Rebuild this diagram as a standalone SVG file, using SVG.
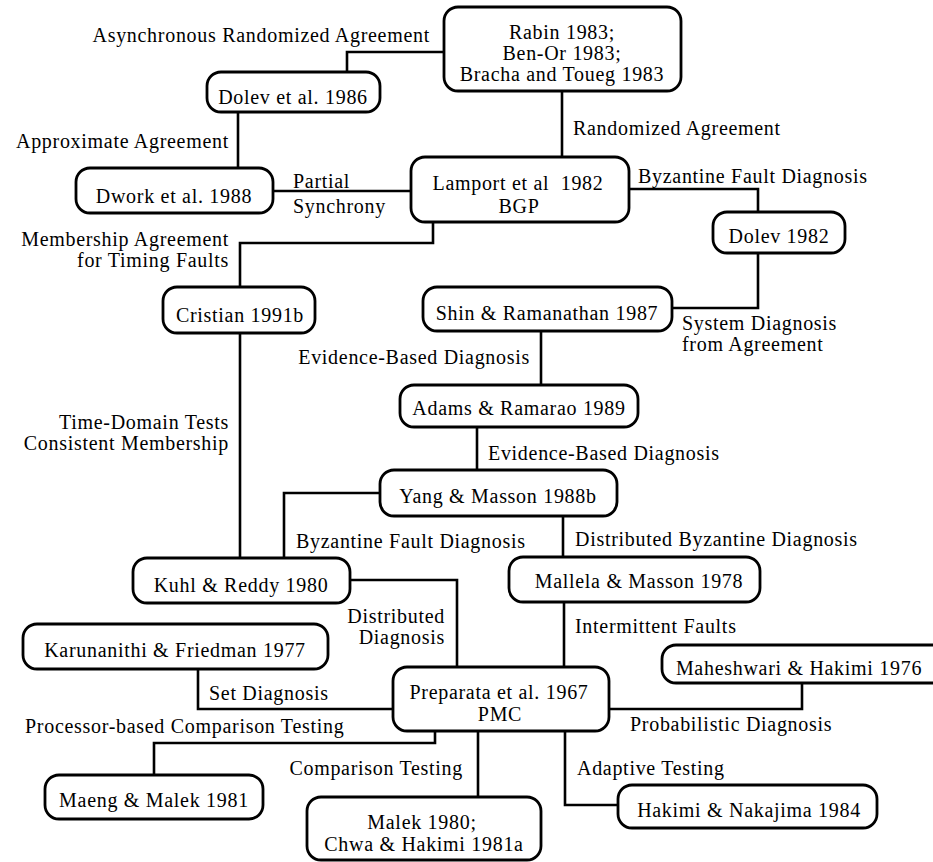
<svg xmlns="http://www.w3.org/2000/svg" width="933" height="862" viewBox="0 0 933 862">
<style>
.n rect{fill:#fff;stroke:#000;stroke-width:2.8}
text{font-family:"Liberation Serif","Times New Roman",serif;font-size:20px;fill:#000;letter-spacing:0.7px}
.n text{text-anchor:middle}
.e{text-anchor:end}
#edges path{fill:none;stroke:#000;stroke-width:2.6}
</style>
<rect x="0" y="0" width="933" height="862" fill="#fff"/>
<g id="edges">
<path d="M444,52 H347 V72"/>
<path d="M562,91 V157"/>
<path d="M238,112 V168"/>
<path d="M273,191 H411"/>
<path d="M629,189 H758 V212"/>
<path d="M433,222 V243 H240 V287"/>
<path d="M758,253 V308 H672"/>
<path d="M541,331 V385"/>
<path d="M477,427 V470"/>
<path d="M240,333 V558"/>
<path d="M380,493 H284 V558"/>
<path d="M563,516 V557"/>
<path d="M350,580 H457 V667"/>
<path d="M564,602 V667"/>
<path d="M198,669 V709 H393"/>
<path d="M435,731 V743 H154 V775"/>
<path d="M478,731 V797"/>
<path d="M565,731 V805 H618"/>
<path d="M609,709 H802 V683"/>
</g>
<g id="edge-labels">
<text class="e" x="430" y="42">Asynchronous Randomized Agreement</text>
<text x="573" y="135">Randomized Agreement</text>
<text class="e" x="229" y="148">Approximate Agreement</text>
<text x="293" y="188">Partial</text>
<text x="293" y="213">Synchrony</text>
<text x="638" y="183">Byzantine Fault Diagnosis</text>
<text class="e" x="229" y="246">Membership Agreement</text>
<text class="e" x="229" y="267">for Timing Faults</text>
<text x="682" y="330">System Diagnosis</text>
<text x="682" y="351">from Agreement</text>
<text class="e" x="530" y="364">Evidence-Based Diagnosis</text>
<text class="e" x="229" y="429">Time-Domain Tests</text>
<text class="e" x="229" y="450">Consistent Membership</text>
<text x="488" y="460">Evidence-Based Diagnosis</text>
<text x="296" y="548">Byzantine Fault Diagnosis</text>
<text x="575" y="546">Distributed Byzantine Diagnosis</text>
<text class="e" x="445" y="623">Distributed</text>
<text class="e" x="445" y="644">Diagnosis</text>
<text x="575" y="633">Intermittent Faults</text>
<text x="209" y="700">Set Diagnosis</text>
<text x="630" y="731">Probabilistic Diagnosis</text>
<text x="25" y="733">Processor-based Comparison Testing</text>
<text class="e" x="463" y="775">Comparison Testing</text>
<text x="577" y="775">Adaptive Testing</text>
</g>
<g id="rabin" class="n"><rect x="444" y="7" width="237" height="84" rx="14"/><text x="562" y="39">Rabin 1983;</text><text x="562" y="60">Ben-Or 1983;</text><text x="562" y="81">Bracha and Toueg 1983</text></g>
<g id="dolev86" class="n"><rect x="207" y="72" width="173" height="40" rx="14"/><text x="293" y="104">Dolev et al. 1986</text></g>
<g id="dwork" class="n"><rect x="76" y="168" width="197" height="45" rx="14"/><text x="174" y="203">Dwork et al. 1988</text></g>
<g id="lamport" class="n"><rect x="411" y="157" width="218" height="65" rx="14"/><text x="518" y="190" xml:space="preserve">Lamport et al  1982</text><text x="519" y="213">BGP</text></g>
<g id="dolev82" class="n"><rect x="713" y="212" width="132" height="41" rx="14"/><text x="779" y="243">Dolev 1982</text></g>
<g id="shin" class="n"><rect x="423" y="287" width="249" height="44" rx="14"/><text x="547" y="320">Shin &amp; Ramanathan 1987</text></g>
<g id="cristian" class="n"><rect x="163" y="287" width="152" height="46" rx="14"/><text x="240" y="322">Cristian 1991b</text></g>
<g id="adams" class="n"><rect x="400" y="385" width="238" height="42" rx="14"/><text x="519" y="415">Adams &amp; Ramarao 1989</text></g>
<g id="yang" class="n"><rect x="380" y="470" width="237" height="46" rx="14"/><text x="498" y="503">Yang &amp; Masson 1988b</text></g>
<g id="kuhl" class="n"><rect x="133" y="558" width="217" height="45" rx="14"/><text x="241" y="592">Kuhl &amp; Reddy 1980</text></g>
<g id="mallela" class="n"><rect x="509" y="557" width="251" height="45" rx="14"/><text x="639" y="588">Mallela &amp; Masson 1978</text></g>
<g id="karunanithi" class="n"><rect x="23" y="624" width="305" height="45" rx="14"/><text x="175" y="657">Karunanithi &amp; Friedman 1977</text></g>
<g id="preparata" class="n"><rect x="393" y="667" width="216" height="64" rx="14"/><text x="499" y="699">Preparata et al. 1967</text><text x="500" y="721">PMC</text></g>
<g id="maheshwari" class="n"><rect x="662" y="645" width="290" height="38" rx="14"/><text x="799" y="675">Maheshwari &amp; Hakimi 1976</text></g>
<g id="maeng" class="n"><rect x="45" y="775" width="218" height="44" rx="14"/><text x="154" y="807">Maeng &amp; Malek 1981</text></g>
<g id="malek" class="n"><rect x="307" y="797" width="234" height="63" rx="14"/><text x="422" y="829">Malek 1980;</text><text x="424" y="851">Chwa &amp; Hakimi 1981a</text></g>
<g id="hakimi" class="n"><rect x="618" y="785" width="259" height="43" rx="14"/><text x="749" y="817">Hakimi &amp; Nakajima 1984</text></g>
</svg>
